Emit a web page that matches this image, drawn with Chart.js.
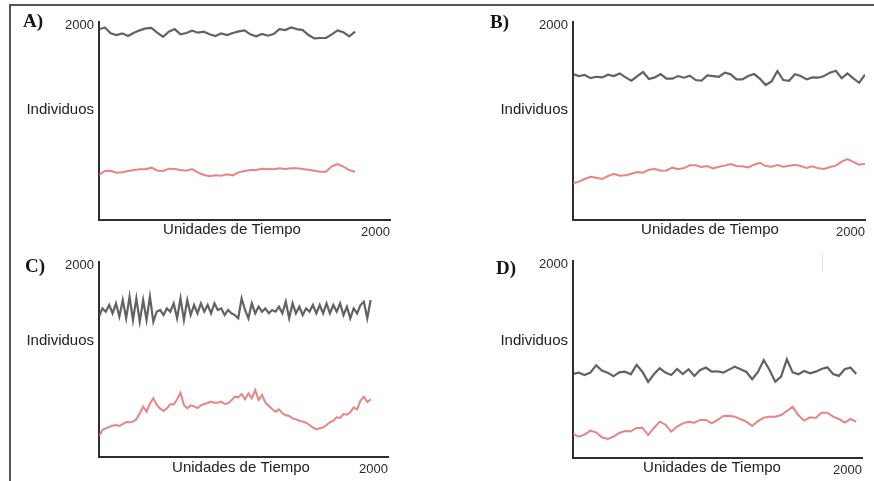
<!DOCTYPE html>
<html><head><meta charset="utf-8">
<script src="https://cdn.jsdelivr.net/npm/chart.js@4/dist/chart.umd.min.js"></script>
<style>
html,body{margin:0;padding:0;background:#fff;}
#page{position:relative;width:874px;height:481px;overflow:hidden;background:#fff;}
#frame{position:absolute;left:9px;top:4px;width:880px;height:490px;border-top:2px solid #555;border-left:2px solid #555;}
#artifact{position:absolute;left:822px;top:252px;width:1px;height:20px;background:#e4e4e4;}
canvas{position:absolute;}
</style></head><body>
<div id="page">
<div id="frame"></div><div id="artifact"></div>
<canvas id="cA" width="437" height="240" style="left:0;top:0"></canvas>
<canvas id="cB" width="437" height="240" style="left:437px;top:0"></canvas>
<canvas id="cC" width="437" height="241" style="left:0;top:240px"></canvas>
<canvas id="cD" width="437" height="241" style="left:437px;top:240px"></canvas>
</div>
<script>
// ---------- DATA ----------
const panelLetters = ['A)', 'B)', 'C)', 'D)'];
const yAxisTitle = 'Individuos';
const xAxisTitle = 'Unidades de Tiempo';
const yTickValues = [2000];
const xTickValues = [2000];

function steps(stepSize, count) { const a = []; for (let i = 0; i < count; i++) a.push(+(i * stepSize).toFixed(1)); return a; }
const timeA = steps(40, 45);    // 0 .. 1760
const timeB = steps(40, 51);    // 0 .. 2000
const timeC = steps(23.5, 81);  // 0 .. 1880
const timeD = steps(40, 50);    // 0 .. 1960

const blackA = [1965,1984,1923,1906,1923,1895,1930,1954,1974,1980,
  1930,1888,1940,1967,1913,1927,1950,1930,1940,1913,
  1895,1923,1906,1927,1944,1954,1913,1892,1916,1899,
  1916,1967,1957,1984,1967,1957,1906,1871,1875,1875,
  1913,1954,1934,1892,1940];
const redA = [464,505,508,488,491,505,515,522,522,539,
  511,505,529,525,515,508,525,491,464,450,
  460,457,470,460,491,505,515,515,529,525,
  522,532,525,532,532,525,518,508,498,498,
  553,577,550,515,498];

const blackB = [1504,1483,1494,1462,1476,1469,1497,1483,1510,1469,
  1435,1483,1525,1452,1469,1504,1456,1456,1483,1466,
  1487,1442,1435,1490,1483,1476,1518,1501,1449,1449,
  1483,1504,1456,1391,1428,1535,1442,1435,1501,1483,
  1449,1469,1466,1483,1518,1538,1462,1510,1459,1414,
  1497];
const redB = [378,395,422,446,436,422,453,477,457,460,
  477,494,487,518,525,508,511,539,522,535,
  563,563,546,556,532,549,560,577,556,553,
  542,570,590,556,549,567,549,560,570,556,
  535,553,532,525,546,560,601,628,598,570,
  580];

const blackC = [1468,1555,1520,1590,1503,1607,1468,1642,1451,1677,
  1433,1660,1416,1642,1433,1677,1416,1520,1538,1485,
  1555,1520,1607,1451,1660,1433,1642,1485,1590,1503,
  1607,1520,1590,1503,1607,1538,1555,1485,1538,1503,
  1485,1451,1660,1538,1451,1607,1503,1572,1520,1555,
  1503,1538,1520,1572,1503,1625,1451,1607,1503,1572,
  1485,1555,1520,1590,1503,1590,1503,1607,1503,1590,
  1520,1607,1485,1572,1451,1555,1503,1590,1625,1451,1642];
const redC = [220,282,300,314,328,335,324,345,366,363,
  370,394,457,526,474,561,614,544,506,481,
  509,554,547,603,673,544,509,540,530,512,
  540,554,565,579,568,568,579,554,561,593,
  631,624,659,603,666,614,700,596,649,568,
  533,502,474,498,457,436,429,404,394,380,
  370,359,335,307,289,300,310,335,363,380,
  415,408,450,443,467,519,498,589,631,575,
  603];

const blackD = [870,884,860,884,960,905,884,846,887,894,
  867,964,894,788,867,929,884,860,922,870,
  919,850,912,936,894,898,884,915,946,919,
  891,815,891,1015,912,791,843,1022,887,867,
  901,877,894,922,939,870,850,919,936,870];
const redD = [249,221,242,283,266,214,197,221,259,280,
  276,311,314,238,311,376,345,273,325,359,
  376,366,394,394,359,394,435,438,428,401,
  376,332,383,418,428,428,445,487,532,442,
  387,421,414,469,469,428,404,366,404,376];

// ---------- LAYOUT / STYLE ----------
const FONT = '"Liberation Sans", Arial, sans-serif';
const panels = [
  { id:'cA', letter:0, time:timeA, black:blackA, red:redA,
    area:{left:99, right:390, top:22, bottom:220}, w:437, h:240,
    letterPos:[23,22], yTitleY:110, xTitlePos:[232,229.5] },
  { id:'cB', letter:1, time:timeB, black:blackB, red:redB,
    area:{left:136, right:428, top:22, bottom:220}, w:437, h:240,
    letterPos:[53,23], yTitleY:110, xTitlePos:[273,229.5] },
  { id:'cC', letter:2, time:timeC, black:blackC, red:redC,
    area:{left:99, right:388, top:22, bottom:217}, w:437, h:241,
    letterPos:[25,27.5], yTitleY:100.5, xTitlePos:[241,227.5] },
  { id:'cD', letter:3, time:timeD, black:blackD, red:redD,
    area:{left:136, right:425, top:21, bottom:218}, w:437, h:241,
    letterPos:[59,29], yTitleY:101, xTitlePos:[275,228] }
];

const panelText = {
  id: 'panelText',
  afterDraw(chart, args, o) {
    const ctx = chart.ctx;
    ctx.save();
    ctx.fillStyle = '#151515';
    ctx.textBaseline = 'middle';
    ctx.font = 'bold 19px "Liberation Serif", "Times New Roman", serif';
    ctx.textAlign = 'left';
    ctx.fillText(o.letter, o.letterPos[0], o.letterPos[1]);
    ctx.fillStyle = '#222';
    ctx.font = '15px ' + FONT;
    ctx.textAlign = 'right';
    ctx.fillText(yAxisTitle, chart.chartArea.left - 5, o.yTitleY);
    ctx.textAlign = 'center';
    ctx.fillText(xAxisTitle, o.xTitlePos[0], o.xTitlePos[1]);
    ctx.restore();
  }
};

const X_AXIS_H = 16;

panels.forEach(p => {
  const toPts = (vals) => vals.map((v, i) => ({ x: p.time[i], y: v }));
  new Chart(document.getElementById(p.id), {
    type: 'line',
    data: {
      datasets: [
        { data: toPts(p.black), borderColor: 'rgba(70,70,70,0.85)', borderWidth: 2.2,
          pointRadius: 0, tension: 0, fill: false },
        { data: toPts(p.red), borderColor: 'rgba(228,110,110,0.85)', borderWidth: 2,
          pointRadius: 0, tension: 0, fill: false }
      ]
    },
    options: {
      responsive: false, animation: false, devicePixelRatio: 1,
      layout: { padding: { left: 0, top: p.area.top, right: p.w - p.area.right,
                           bottom: p.h - p.area.bottom - X_AXIS_H } },
      plugins: {
        legend: { display: false }, tooltip: { enabled: false }, title: { display: false },
        panelText: { letter: panelLetters[p.letter], letterPos: p.letterPos,
                     yTitleY: p.yTitleY, xTitlePos: p.xTitlePos }
      },
      scales: {
        x: {
          type: 'linear', min: 0, max: 2000,
          grid: { display: false, drawTicks: false },
          border: { display: true, color: '#2e2e2e', width: 2 },
          ticks: { align: 'end', padding: 5, maxRotation: 0, minRotation: 0, autoSkip: false,
                   color: '#2a2a2a', font: { family: FONT, size: 13 },
                   callback: v => String(v) },
          afterBuildTicks: s => { s.ticks = xTickValues.map(v => ({ value: v })); },
          afterFit: s => { s.height = X_AXIS_H; }
        },
        y: {
          type: 'linear', min: 0, max: 2040,
          grid: { display: false, drawTicks: false },
          border: { display: true, color: '#2e2e2e', width: 2 },
          ticks: { padding: 5, autoSkip: false, color: '#2a2a2a', font: { family: FONT, size: 13 },
                   callback: v => String(v) },
          afterBuildTicks: s => { s.ticks = yTickValues.map(v => ({ value: v })); },
          afterFit: s => { s.width = p.area.left; }
        }
      }
    },
    plugins: [panelText]
  });
});
</script>
</body></html>
